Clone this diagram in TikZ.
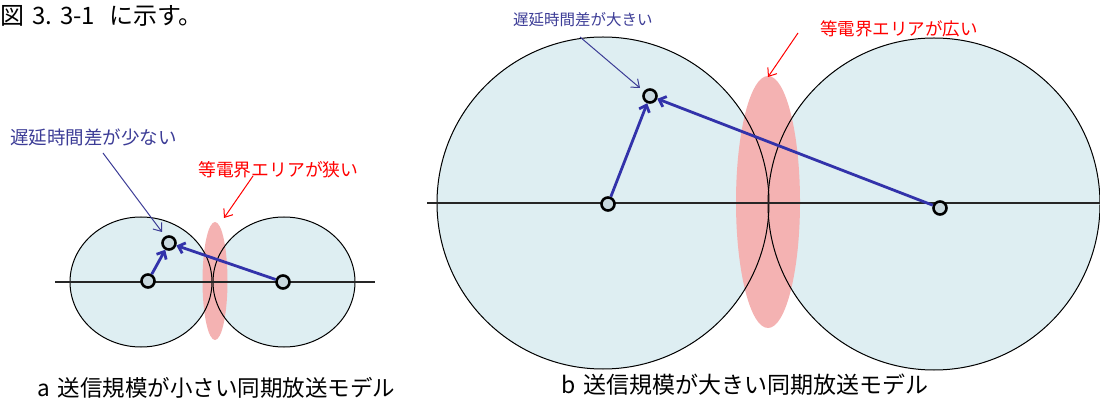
\documentclass[tikz,border=0pt]{standalone}
\usepackage{fontspec}
\newfontfamily\jp{Noto Sans CJK JP}
\usetikzlibrary{arrows.meta}
\definecolor{cellfill}{RGB}{222,238,242}
\definecolor{pinkzone}{RGB}{244,178,178}
\definecolor{arrowblue}{RGB}{50,50,170}
\definecolor{labelblue}{RGB}{60,60,150}
\definecolor{stafill}{RGB}{200,216,222}
\tikzset{
  cell/.style={fill=cellfill},
  celledge/.style={draw=black, line width=1pt},
  zone/.style={fill=pinkzone},
  axis/.style={draw=black!85, line width=1.2pt},
  sta/.style={circle, draw=black, line width=2.6pt, fill=stafill, minimum size=13pt, inner sep=0pt},
  path/.style={draw=arrowblue, line width=2.8pt, -{Straight Barb[length=6pt,width=11pt]}},
  note/.style={line width=1pt, -{Straight Barb[length=7pt,width=11pt]}},
  txt/.style={inner sep=0pt, anchor=west},
}
\begin{document}
\begin{tikzpicture}[x=1pt,y=-1pt]
\useasboundingbox (0,0) rectangle (1100,403);
% ---- picture a ----
\fill[cell] (141,282) ellipse [x radius=71, y radius=65];
\fill[cell] (284,282) ellipse [x radius=71, y radius=65];
\fill[zone] (215,281) ellipse [x radius=12.5, y radius=59];
\draw[celledge] (141,282) ellipse [x radius=71, y radius=65];
\draw[celledge] (284,282) ellipse [x radius=71, y radius=65];
\draw[axis] (55,282) -- (375,282);
% ---- picture b ----
\fill[cell] (603,203) circle [radius=166];
\fill[cell] (934,204) circle [radius=166];
\fill[zone] (768,202) ellipse [x radius=32, y radius=126];
\draw[celledge] (603,203) circle [radius=166];
\draw[celledge] (934,204) circle [radius=166];
\draw[axis] (427,203) -- (1100,203);
% stations a
\node[sta] (a1) at (148,281) {};
\node[sta] (a2) at (169,243) {};
\node[sta] (a3) at (283,282) {};
\draw[path] (a1) -- (a2);
\draw[path] (a3) -- (a2);
% stations b
\node[sta] (b1) at (608,204) {};
\node[sta] (b2) at (650,96) {};
\node[sta] (b3) at (940,208) {};
\draw[path] (b1) -- (b2);
\draw[path] (b3) -- (b2);
% labels
\node[txt] (heading) at (0,16) {\jp\fontsize{24}{26}\selectfont 図\hspace{8pt}3.\hspace{8pt}3-1\hspace{14pt}に示す。};
\node[txt, text=labelblue] (la) at (10,137) {\jp\fontsize{18.5}{20}\selectfont 遅延時間差が少ない};
\node[txt, text=red] (ra) at (198,170) {\jp\fontsize{17.8}{19}\selectfont 等電界エリアが狭い};
\node[txt, text=labelblue] (lb) at (513,20) {\jp\fontsize{15.5}{17}\selectfont 遅延時間差が大きい};
\node[txt, text=red] (rb) at (820,29) {\jp\fontsize{17.5}{19}\selectfont 等電界エリアが広い};
\coordinate (la0) at (103,153);
\coordinate (la1) at (162,232);
\coordinate (ra0) at (253,176);
\coordinate (ra1) at (224,218);
\coordinate (lb0) at (580,37);
\coordinate (lb1) at (640,88);
\coordinate (rb0) at (798,33);
\coordinate (rb1) at (768,77);
\draw[note, draw=labelblue] (la0) -- (la1);
\draw[note, draw=red] (ra0) -- (ra1);
\draw[note, draw=labelblue] (lb0) -- (lb1);
\draw[note, draw=red] (rb0) -- (rb1);
% captions
\node[txt] (ca) at (37,388) {\jp\fontsize{22.5}{24}\selectfont a\hspace{8pt}送信規模が小さい同期放送モデル};
\node[txt] (cb) at (561,385) {\jp\fontsize{23}{25}\selectfont b\hspace{8pt}送信規模が大きい同期放送モデル};
\end{tikzpicture}
\end{document}
